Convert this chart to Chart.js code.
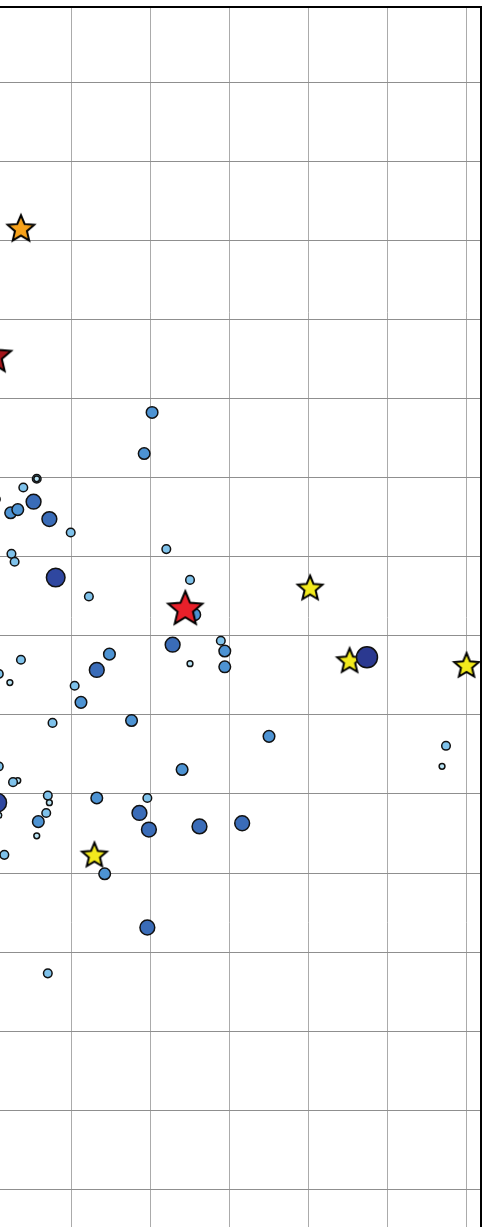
<!DOCTYPE html>
<html>
<head>
<meta charset="utf-8">
<script src="https://cdn.jsdelivr.net/npm/chart.js@4.4.1/dist/chart.umd.min.js"></script>
<style>
	html, body { margin: 0; padding: 0; background: #fff; }
	#wrap { width: 490px; height: 1227px; position: relative; }
</style>
</head>
<body>
<div id="wrap"><canvas id="chart"></canvas></div>
<script>
// circles: x, y and magnitude class (1 = smallest / palest, 6 = largest / darkest)
const circleX = [2.02, 1.92, 0.56, 0.56, 0.39, 0.06, 0.52, 0.23, 0.32, 0.72, 0.99, 2.20, 0.24, 0.28, 0.80,
	1.22, 2.50, 2.56, 2.28, 2.89, 2.94, 2.50, 2.94, 0.36, 0.08, 0.22, 1.48, 1.32, 1.04, 1.12,
	0.76, 1.76, 0.08, 0.32, 0.26, 2.40, 0.06, 0.08, 0.70, 0.72, 0.58, 0.68, 0.56, 1.32, 1.96,
	1.86, 1.98, 2.62, 3.16, 0.15, 1.42, 4.74, 3.50, 5.74, 5.69, 1.96, 0.70];
const circleY = [9.83, 9.31, 8.99, 8.99, 8.88, 8.73, 8.70, 8.56, 8.60, 8.48, 8.31, 8.10, 8.04, 7.94, 7.74,
	7.50, 7.71, 7.27, 6.89, 6.94, 6.81, 6.65, 6.61, 6.70, 6.52, 6.41, 6.77, 6.57, 6.37, 6.16,
	5.90, 5.93, 5.35, 5.17, 5.15, 5.31, 4.89, 4.73, 4.98, 4.89, 4.65, 4.76, 4.47, 4.95, 4.95,
	4.76, 4.55, 4.59, 4.63, 4.23, 3.99, 6.73, 5.73, 5.61, 5.35, 3.31, 2.73];
const circleMag = [3, 3, 2, 1, 2, 1, 4, 3, 3, 4, 2, 2, 2, 2, 5,
	2, 2, 3, 4, 2, 3, 1, 3, 2, 2, 1, 3, 4, 2, 3,
	2, 3, 2, 1, 2, 3, 5, 1, 2, 1, 3, 2, 1, 3, 2,
	4, 4, 4, 4, 2, 3, 6, 3, 2, 1, 4, 2];

// stars
const redStarX = [2.44];
const redStarY = [7.34];
const darkStarX = [0.02];
const darkStarY = [10.54];
const orangeStarX = [0.36];
const orangeStarY = [12.15];
const yellowStarX = [1.29, 4.02, 4.52, 6.00];
const yellowStarY = [4.22, 7.60, 6.68, 6.62];

// axis range and grid step
const xMin = 0.095, xMax = 6.183;
const yMin = -0.481, yMax = 14.962;
const gridStep = 1;

const magRadius = [0, 2.9, 4.3, 5.8, 7.4, 9.3, 10.5];
const magColor = ['#fff', '#b8e3f4', '#7fc2eb', '#4d93d3', '#3a6cb8', '#2f47a0', '#2b3990'];

function toPoints(xs, ys) {
	return xs.map((x, i) => ({ x: x, y: ys[i] }));
}

function starImage(r, fill) {
	const c = document.createElement('canvas');
	c.width = c.height = Math.ceil(2 * (r + 3));
	const ctx = c.getContext('2d');
	const cx = c.width / 2, cy = c.height / 2;
	ctx.beginPath();
	for (let i = 0; i < 10; i++) {
		const rr = i % 2 ? r * 0.45 : r;
		const a = -Math.PI / 2 + i * Math.PI / 5;
		ctx.lineTo(cx + rr * Math.cos(a), cy + rr * Math.sin(a));
	}
	ctx.closePath();
	ctx.fillStyle = fill;
	ctx.fill();
	ctx.lineWidth = 2;
	ctx.strokeStyle = '#000';
	ctx.stroke();
	return c;
}

function starSet(xs, ys, r, fill) {
	return {
		data: toPoints(xs, ys),
		pointStyle: starImage(r, fill),
		pointRadius: r,
		pointBorderWidth: 0,
		showLine: false,
		clip: false
	};
}

const datasets = [
	starSet(redStarX, redStarY, 18, '#e8202a'),
	starSet(darkStarX, darkStarY, 18, '#a3161c'),
	{
		data: toPoints(circleX, circleY),
		pointRadius: circleMag.map(m => magRadius[m]),
		pointBackgroundColor: circleMag.map(m => magColor[m]),
		pointBorderColor: '#111',
		pointBorderWidth: 1.5,
		showLine: false,
		clip: false
	},
	starSet(orangeStarX, orangeStarY, 14, '#f7a21b'),
	starSet(yellowStarX, yellowStarY, 13, '#f2ea1d')
];

new Chart(document.getElementById('chart'), {
	type: 'scatter',
	data: { datasets: datasets },
	options: {
		responsive: true,
		maintainAspectRatio: false,
		animation: false,
		events: [],
		layout: { autoPadding: false, padding: { top: 7, right: 9, left: 0, bottom: 0 } },
		plugins: { legend: { display: false }, tooltip: { enabled: false } },
		scales: {
			x: {
				type: 'linear',
				position: 'top',
				min: xMin,
				max: xMax,
				ticks: { display: false, stepSize: gridStep, includeBounds: false },
				grid: { color: '#ababab', lineWidth: 1, drawTicks: false },
				border: { display: true, color: '#000', width: 2 }
			},
			y: {
				type: 'linear',
				position: 'right',
				min: yMin,
				max: yMax,
				ticks: { display: false, stepSize: gridStep, includeBounds: false },
				grid: { color: '#8f8f8f', lineWidth: 1, drawTicks: false },
				border: { display: true, color: '#000', width: 2 }
			}
		}
	}
});
</script>
</body>
</html>
